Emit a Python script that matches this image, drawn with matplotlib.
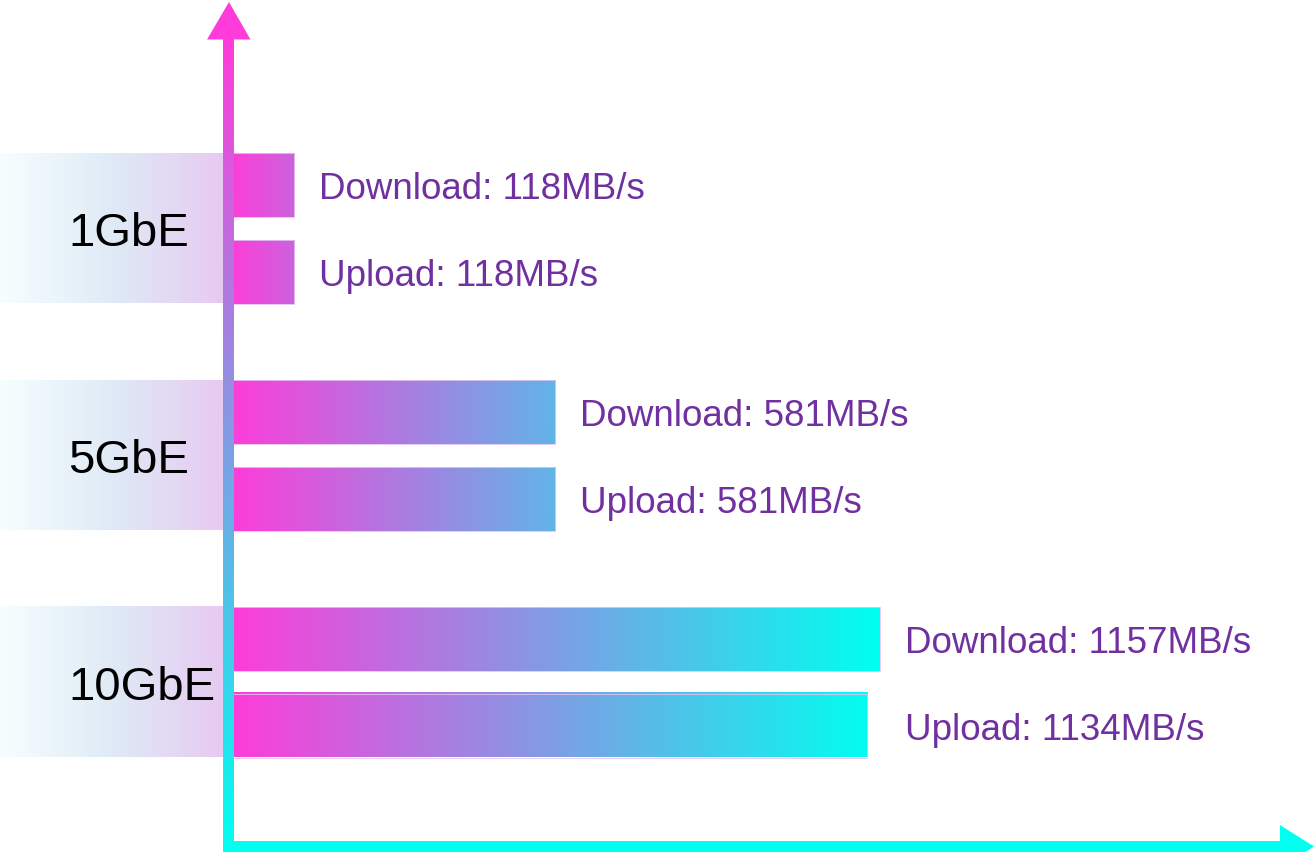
import numpy as np
import matplotlib.pyplot as plt
from matplotlib.colors import LinearSegmentedColormap
from matplotlib.patches import Polygon, Rectangle

plt.rcParams['font.family'] = ['Liberation Sans', 'DejaVu Sans']

categories = ['1GbE', '5GbE', '10GbE']
download = [118, 581, 1157]
upload = [118, 581, 1134]

PINK = '#ff3cd9'
CYAN = '#00fff0'
TEXT = '#7030a0'
bar_cmap = LinearSegmentedColormap.from_list('bar', [PINK, CYAN])
band_cmap = LinearSegmentedColormap.from_list('band', ['#f6ffff', '#dfeaf6', '#e7c9f1'])

W, H = 1314, 853
fig = plt.figure(figsize=(W / 100, H / 100), dpi=100)
ax = fig.add_axes([0, 0, 1, 1])
ax.axis('off')

# scale: pixels per MB/s and per category row
px_per_mb = 0.5635
x0 = 228
row = 227
y0 = 229
xlim = (-x0 / px_per_mb, (W - x0) / px_per_mb)
ylim = ((H - y0) / row, -y0 / row)

bar_h = 64 / row
off = 43.5 / row
band_h = 150 / row
vmax = max(download + upload)

for i, cat in enumerate(categories):
    # faded band behind the category label
    ax.imshow(np.linspace(0, 1, 256)[None, :], cmap=band_cmap,
              extent=[xlim[0], 0, i + band_h / 2, i - band_h / 2],
              aspect='auto', zorder=1)
    ax.annotate(cat, xy=(xlim[0], i), xytext=(49, -12.2), textcoords='offset points',
                fontsize=34, va='baseline', color='black')

    label_x = max(download[i], upload[i])
    for name, vals, dy in [('Download', download, -off), ('Upload', upload, off)]:
        v = vals[i]
        y = i + dy
        f = (v / vmax) ** 0.7
        ax.imshow(np.linspace(0, f, 256)[None, :], cmap=bar_cmap, vmin=0, vmax=1,
                  extent=[0, v, y + bar_h / 2, y - bar_h / 2], aspect='auto', zorder=2)
        ax.barh(y, v, height=bar_h, facecolor='none', edgecolor='#e2c4f2',
                linewidth=0.6, zorder=3)
        ax.annotate(f'{name}: {v}MB/s', xy=(label_x, y), xytext=(18, -9.5),
                    textcoords='offset points', fontsize=26.5, color=TEXT, va='baseline')

ax.set_xlim(*xlim)
ax.set_ylim(*ylim)

# arrows for the axes, drawn in pixel space on top
deco = fig.add_axes([0, 0, 1, 1], zorder=5)
deco.axis('off')
deco.patch.set_alpha(0)
deco.imshow(np.linspace(0, 1, 256)[:, None], cmap=bar_cmap,
            extent=[223, 234, 853, 40], aspect='auto')
deco.add_patch(Polygon([(207, 40.5), (250.5, 40.5), (229, 3)], closed=True, color=PINK, lw=0))
deco.add_patch(Rectangle((223, 842), 1058, 20, color=CYAN, lw=0))
deco.add_patch(Polygon([(1280, 826), (1280, 869), (1314, 847.5)], closed=True, color=CYAN, lw=0))
deco.set_xlim(0, W)
deco.set_ylim(H, 0)

fig.savefig('out.png', dpi=100)
